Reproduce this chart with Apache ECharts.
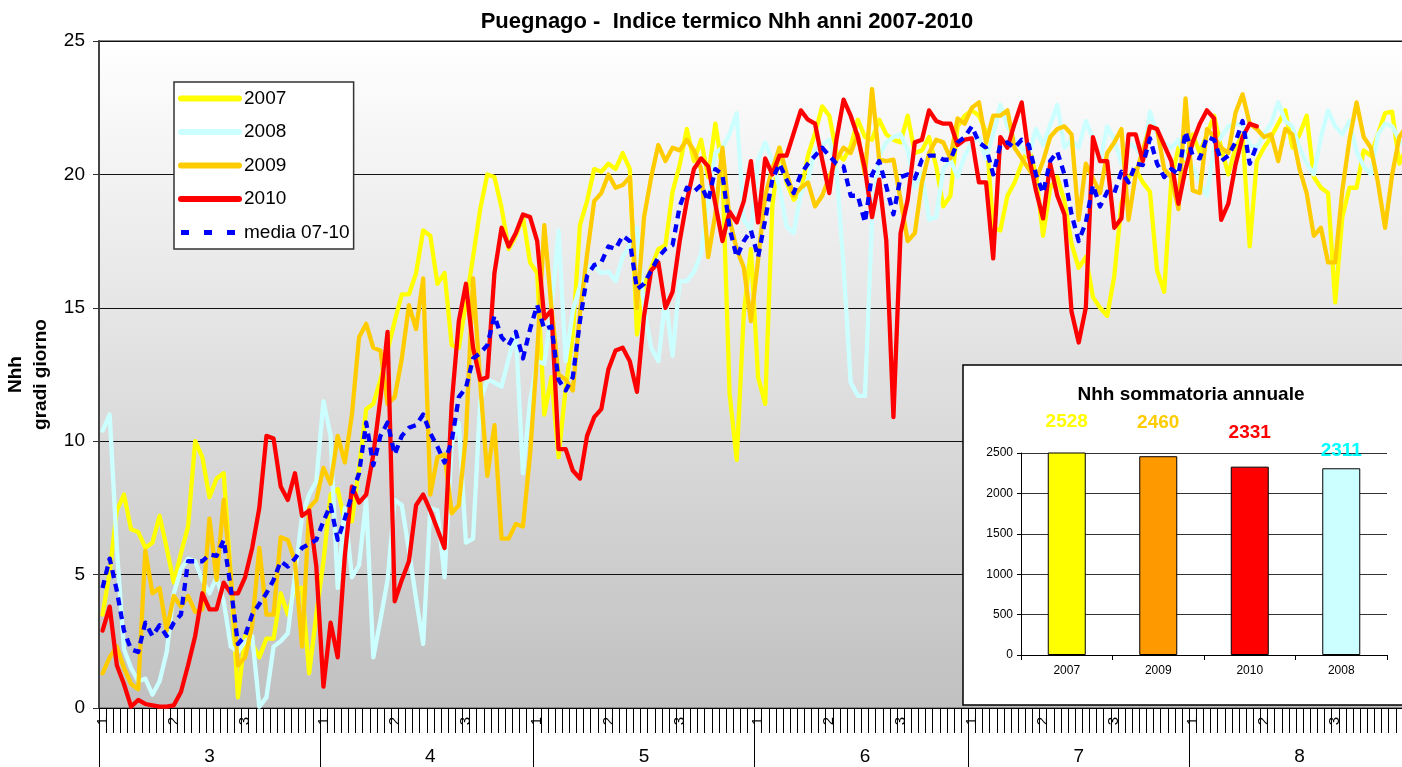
<!DOCTYPE html>
<html>
<head>
<meta charset="utf-8">
<script src="https://cdn.jsdelivr.net/npm/echarts@6/dist/echarts.min.js"></script>
<style>
  html, body { margin: 0; padding: 0; background: #fff; }
  #chart { width: 1402px; height: 767px; }
</style>
</head>
<body>
<div id="chart"></div>
<script>
// months shown on the axis and their lengths
const monthNames = ['3', '4', '5', '6', '7', '8'];
const monthDays = [31, 30, 31, 30, 31, 31];
// decade labels shown under day 1, 11, 21 of every month
const decadeDays = [1, 11, 21];
const decadeLabels = ['1', '2', '3'];

const seriesNames = ['2007', '2008', '2009', '2010', 'media 07-10'];

// daily Nhh values, 1 March -> 31 August
const nhh2007 = [
  3.5, 5.1, 7.4, 8.0, 6.7, 6.6, 6.0, 6.2, 7.2, 6.0, 4.7, 5.8, 6.8, 10.0, 9.4, 7.9, 8.6, 8.8, 4.9, 0.4, 2.7, 2.4, 1.9, 2.6, 2.6, 4.3, 3.5, 4.5, 4.5, 1.3, 3.5,
  5.5, 8.0, 8.2, 7.0, 7.0, 9.0, 11.2, 11.4, 12.3, 13.4, 14.5, 15.5, 15.5, 16.3, 17.9, 17.7, 15.9, 16.3, 13.6, 13.5, 15.2, 16.9, 18.7, 20.0, 19.9, 18.75, 17.2, 17.7, 18.4, 16.7,
  16.3, 11.0, 12.4, 9.4, 12.0, 14.0, 18.1, 19.0, 20.2, 20.1, 20.4, 20.2, 20.8, 20.2, 14.0, 15.8, 16.5, 17.2, 17.35, 19.35, 20.35, 21.7, 20.5, 21.3, 19.9, 21.9, 20.2, 11.8, 9.3, 14.8, 17.2,
  12.4, 11.4, 18.8, 21.0, 19.7, 19.05, 19.3, 20.7, 21.55, 22.55, 22.2, 20.8, 20.55, 21.05, 22.05, 21.4, 21.3, 22.05, 21.5, 21.3, 21.2, 22.2, 20.8, 20.9, 21.4, 20.3, 18.8, 19.2, 21.8, 22.2,
  22.4, 22.2, 21.6, 18.0, 17.9, 19.2, 19.7, 20.4, 21.0, 20.0, 17.7, 19.5, 19.9, 19.0, 17.4, 16.5, 16.9, 15.4, 15.0, 14.7, 16.2, 18.9, 19.9, 20.2, 19.7, 19.35, 16.4, 15.6, 19.8, 21.0, 20.5,
  21.5, 20.8, 21.5, 22.2, 21.0, 20.0, 21.0, 21.5, 17.3, 20.5, 21.0, 21.4, 21.9, 22.4, 21.0, 21.5, 22.2, 19.9, 19.5, 19.3, 15.2, 18.4, 19.5, 19.5, 20.9, 20.7, 21.5, 22.3, 22.35, 20.4, 21.0
];
const nhh2008 = [
  10.4, 11.0, 6.0, 2.2, 1.5, 1.0, 1.1, 0.5, 1.0, 2.1, 4.3, 5.2, 5.6, 5.5, 4.8, 4.3, 4.9, 4.0, 2.3, 2.1, 2.5, 2.7, 0.05, 0.4, 2.3, 2.5, 2.8, 5.0, 7.2, 8.0, 8.5,
  11.5, 10.2, 4.5, 7.5, 4.9, 5.35, 7.8, 1.9, 3.3, 4.8, 7.8, 7.6, 5.9, 4.1, 2.4, 7.5, 7.4, 4.9, 9.9, 10.7, 6.2, 6.35, 11.5, 12.3, 12.2, 12.05, 13.1, 14.1, 8.8, 11.5,
  13.0, 12.9, 14.9, 17.9, 13.0, 14.9, 15.8, 16.5, 16.6, 16.3, 16.35, 16.0, 16.9, 17.35, 18.0, 15.0, 13.5, 13.0, 15.4, 13.2, 16.0, 16.0, 16.35, 17.0, 19.0, 20.8, 21.0, 21.5, 22.3, 18.3, 17.9,
  20.55, 21.2, 20.5, 19.5, 18.05, 17.8, 19.3, 19.8, 20.9, 21.1, 21.3, 20.2, 16.55, 12.2, 11.7, 11.7, 18.3, 20.7, 21.2, 21.4, 21.5, 20.9, 19.5, 20.05, 18.3, 18.4, 20.2, 20.55, 19.9, 20.7,
  21.2, 21.4, 20.6, 21.5, 22.6, 21.8, 21.3, 21.0, 20.7, 21.7, 21.1, 21.85, 22.6, 21.0, 21.3, 21.0, 22.0, 21.35, 20.5, 21.8, 21.3, 20.4, 21.2, 21.0, 20.6, 22.35, 21.5, 21.2, 21.0, 21.3, 20.6,
  20.3, 19.7, 19.2, 21.0, 21.4, 21.8, 21.9, 21.85, 21.1, 21.0, 21.5, 21.9, 22.7, 22.0, 21.8, 21.0, 20.4, 20.0, 21.4, 22.4, 21.8, 21.5, 22.0, 20.85, 20.3, 20.0, 21.5, 21.9, 21.8, 21.3, 21.0
];
const nhh2009 = [
  1.3, 1.9, 2.3, 1.5, 0.9, 0.7, 5.9, 4.3, 4.5, 2.9, 4.2, 3.8, 4.2, 3.6, 3.7, 7.1, 4.8, 7.8, 4.9, 1.6, 1.9, 3.1, 6.0, 3.5, 3.5, 6.4, 6.3, 5.5, 2.3, 7.5, 7.8,
  9.0, 8.4, 10.2, 9.2, 11.0, 13.9, 14.4, 13.5, 13.4, 11.4, 11.65, 13.1, 15.1, 14.2, 16.1, 8.0, 9.4, 9.5, 7.3, 7.6, 10.2, 16.1, 12.2, 8.7, 10.6, 6.35, 6.35, 6.9, 6.8, 9.5,
  13.3, 18.1, 15.0, 12.5, 12.3, 11.9, 14.8, 17.0, 19.0, 19.3, 20.0, 19.5, 19.6, 19.9, 15.0, 18.4, 19.9, 21.1, 20.5, 21.0, 20.9, 21.3, 20.9, 20.2, 16.9, 18.5, 21.0, 18.3, 17.2, 16.5, 14.5,
  16.8, 19.2, 20.2, 21.0, 20.05, 19.2, 19.5, 19.7, 18.8, 19.2, 19.9, 20.55, 21.0, 20.8, 21.5, 20.0, 23.2, 20.55, 20.5, 20.55, 19.05, 17.5, 17.8, 19.7, 20.8, 21.3, 21.2, 20.6, 22.1, 21.9,
  22.5, 22.7, 21.2, 22.2, 22.2, 22.4, 21.0, 20.6, 20.2, 19.8, 20.5, 21.4, 21.7, 21.8, 21.5, 18.3, 20.4, 19.85, 19.3, 20.8, 21.2, 21.7, 18.3, 20.0, 20.9, 21.8, 21.7, 20.2, 19.9, 18.7, 22.85,
  19.4, 19.3, 21.7, 21.4, 21.0, 20.8, 22.3, 23.0, 21.9, 21.7, 21.4, 21.5, 20.5, 21.7, 21.5, 20.2, 19.3, 17.7, 18.0, 16.7, 16.7, 19.4, 21.3, 22.7, 21.4, 21.0, 19.7, 18.0, 20.0, 21.4, 21.8
];
const nhh2010 = [
  2.9, 3.8, 1.6, 0.9, 0.05, 0.3, 0.15, 0.1, 0.05, 0.05, 0.1, 0.6, 1.6, 2.7, 4.3, 3.7, 3.7, 4.7, 4.3, 4.3, 4.9, 6.0, 7.5, 10.2, 10.1, 8.3, 7.8, 8.8, 7.2, 7.4, 5.3,
  0.8, 3.2, 1.9, 5.7, 8.3, 7.7, 8.0, 9.5, 11.6, 14.1, 4.0, 4.8, 5.5, 7.6, 8.0, 7.4, 6.7, 6.0, 11.4, 14.5, 15.9, 13.5, 12.3, 12.4, 16.3, 18.0, 17.3, 17.8, 18.5, 18.4,
  17.5, 14.6, 14.9, 9.7, 9.7, 8.9, 8.6, 10.2, 10.9, 11.2, 12.7, 13.4, 13.5, 13.0, 11.85, 14.7, 16.4, 16.7, 15.0, 15.6, 17.5, 19.0, 20.2, 20.6, 20.3, 18.9, 17.5, 18.6, 18.2, 19.0, 20.5,
  18.2, 20.6, 20.0, 20.7, 20.7, 21.55, 22.4, 22.05, 21.9, 20.55, 19.3, 21.3, 22.8, 22.2, 21.4, 20.2, 18.4, 19.8, 17.5, 10.9, 17.8, 19.05, 21.2, 21.3, 22.4, 22.0, 21.9, 21.9, 21.1, 21.3,
  21.35, 19.7, 19.7, 16.85, 21.4, 21.0, 21.9, 22.7, 20.7, 19.4, 18.35, 20.4, 19.2, 18.5, 14.85, 13.7, 15.0, 21.4, 20.5, 20.5, 18.0, 18.35, 21.5, 21.5, 20.5, 21.8, 21.7, 21.1, 20.5, 18.9, 20.2,
  21.2, 21.9, 22.4, 22.1, 18.3, 18.9, 20.35, 21.4, 21.9, 21.8
];
const nhhMedia = [
  4.5, 5.6, 4.4, 2.9, 2.2, 2.1, 3.2, 2.7, 3.1, 2.7, 3.2, 3.5, 5.5, 5.5, 5.5, 5.75, 5.7, 6.3, 4.5, 2.4, 2.7, 3.5, 3.9, 4.3, 4.8, 5.5, 5.3, 5.6, 6.0, 6.15, 6.3,
  7.0, 7.6, 6.3, 7.1, 8.0, 8.8, 10.7, 9.1, 10.2, 10.7, 9.5, 10.2, 10.5, 10.6, 11.0, 10.3, 9.8, 9.2, 10.0, 11.65, 12.0, 13.1, 13.3, 13.6, 14.7, 13.9, 13.6, 14.1, 13.1, 14.2,
  15.1, 14.2, 14.3, 12.3, 11.9, 12.4, 14.5, 16.2, 16.6, 16.7, 17.3, 17.2, 17.7, 17.5, 15.7, 15.9, 16.4, 16.9, 17.2, 17.35, 18.8, 19.5, 19.35, 19.6, 19.0, 20.2, 20.0, 18.0, 16.9, 17.5, 17.9,
  16.9, 18.3, 19.8, 20.4, 19.8, 19.3, 20.0, 20.4, 20.7, 21.0, 20.7, 20.4, 20.3, 19.2, 19.2, 18.2, 20.0, 20.5, 19.55, 18.5, 19.9, 20.0, 19.85, 20.55, 20.7, 20.7, 20.55, 20.55, 21.2, 21.4,
  21.8, 21.2, 21.0, 20.0, 21.1, 21.2, 21.0, 21.3, 21.1, 20.0, 19.3, 20.5, 20.85, 20.0, 18.5, 17.5, 18.2, 19.6, 18.8, 19.35, 19.3, 20.1, 19.7, 20.4, 20.35, 21.35, 20.4, 19.9, 20.2, 20.0, 21.6,
  20.7, 20.6, 21.4, 21.3, 20.5, 20.7, 21.2, 22.0, 20.4, 21.1
];

// inset: yearly sums
const sumYears = ['2007', '2009', '2010', '2008'];
const sumValues = [2528, 2460, 2331, 2311];

const lineColors = ['#FFFF00', '#CCFFFF', '#FFCC00', '#FF0000', '#0000FF'];
const barColors = ['#FFFF00', '#FF9900', '#FF0000', '#CCFFFF'];
const barLabelColors = ['#FFFF00', '#FFCC00', '#FF0000', '#00FFFF'];
const barLabelLift = [-16, -19, -19, -3];

const FONT = '"Liberation Sans", Arial, sans-serif';

// one category per day
const days = [];
monthNames.forEach(function (m, k) {
  for (let d = 1; d <= monthDays[k]; d++) days.push(m + '/' + d);
});
const dayOf = function (i) { return +days[i].split('/')[1]; };

const chart = echarts.init(document.getElementById('chart'));

const lineSeries = [nhh2007, nhh2008, nhh2009, nhh2010, nhhMedia].map(function (vals, k) {
  const dashed = k === 4;
  return {
    name: seriesNames[k],
    type: 'line',
    xAxisIndex: 0,
    yAxisIndex: 0,
    data: vals,
    symbol: 'none',
    showSymbol: false,
    z: 2 + k * 0.1,
    lineStyle: {
      color: lineColors[k],
      width: 4.3,
      type: dashed ? [8, 6] : 'solid',
      cap: dashed ? 'butt' : 'round',
      join: 'round'
    },
    itemStyle: { color: lineColors[k] },
    emphasis: { disabled: true }
  };
});

// legend entries; the average gets the wider dash of the original key
const legendData = seriesNames.map(function (n, k) {
  return k === 4
    ? { name: n, lineStyle: { type: [8, 15], cap: 'butt', width: 5 } }
    : { name: n };
});

const option = {
  animation: false,
  textStyle: { fontFamily: FONT },
  title: [
    {
      text: 'Puegnago -  Indice termico Nhh anni 2007-2010',
      left: 722, top: 6, textAlign: 'center',
      textStyle: { fontSize: 22, fontWeight: 'bold', color: '#000', fontFamily: FONT }
    },
    {
      text: 'Nhh sommatoria annuale',
      left: 1186, top: 380, textAlign: 'center', z: 12,
      textStyle: { fontSize: 19, fontWeight: 'bold', color: '#000', fontFamily: FONT }
    }
  ],
  legend: {
    data: legendData,
    orient: 'vertical',
    left: 174, top: 82,
    backgroundColor: '#fff',
    borderColor: '#333', borderWidth: 1.5, borderRadius: 0,
    padding: [7, 4, 7, 4],
    itemWidth: 58, itemHeight: 14, itemGap: 14.5,
    selectedMode: false,
    itemStyle: { opacity: 0 },
    lineStyle: { width: 6, cap: 'round' },
    textStyle: { fontSize: 19, color: '#000', fontFamily: FONT }
  },
  graphic: [{
    type: 'rect', z: 10, silent: true,
    shape: { x: 963, y: 365, width: 470, height: 340 },
    style: { fill: '#fff', stroke: '#000', lineWidth: 1.5 }
  }],
  grid: [
    {
      left: 99, top: 41, right: -8, bottom: 59,
      outerBoundsMode: 'none',
      show: true,
      borderColor: '#888', borderWidth: 2,
      backgroundColor: new echarts.graphic.LinearGradient(0, 0, 0, 1, [
        { offset: 0, color: '#ffffff' },
        { offset: 1, color: '#c0c0c0' }
      ])
    },
    { left: 1021, top: 453, right: 15, bottom: 112, outerBoundsMode: 'none' }
  ],
  xAxis: [
    {
      type: 'category', gridIndex: 0, data: days, boundaryGap: true,
      axisLine: { lineStyle: { color: '#000', width: 1 } },
      axisTick: { show: true, interval: 0, length: 25, lineStyle: { color: '#000' } },
      axisLabel: {
        interval: function (i) { return decadeDays.indexOf(dayOf(i)) >= 0; },
        formatter: function (v) { return decadeLabels[decadeDays.indexOf(+v.split('/')[1])]; },
        rotate: 90, fontSize: 15, color: '#000', margin: 9, fontFamily: FONT
      },
      splitLine: { show: false }
    },
    {
      type: 'category', gridIndex: 0, data: days, boundaryGap: true,
      position: 'bottom', offset: 25,
      axisLine: { show: false },
      axisTick: {
        show: true, length: 34, lineStyle: { color: '#000' },
        interval: function (i) { return dayOf(i) === 1; }
      },
      axisLabel: {
        interval: function (i) { return dayOf(i) === 16; },
        formatter: function (v) { return v.split('/')[0]; },
        fontSize: 19, color: '#000', margin: 14, fontFamily: FONT
      },
      splitLine: { show: false }
    },
    {
      type: 'category', gridIndex: 1, data: sumYears, z: 12,
      axisLine: { lineStyle: { color: '#000', width: 1 } },
      axisTick: { show: true, length: 5, lineStyle: { color: '#000' } },
      axisLabel: { fontSize: 12, color: '#000', margin: 10, fontFamily: FONT }
    }
  ],
  yAxis: [
    {
      type: 'value', gridIndex: 0, min: 0, max: 25, interval: 5,
      name: 'Nhh\ngradi giorno', nameLocation: 'middle', nameRotate: 90, nameGap: 34,
      nameTextStyle: { fontSize: 19, fontWeight: 'bold', color: '#000', lineHeight: 25, fontFamily: FONT },
      axisLine: { show: true, lineStyle: { color: '#444', width: 2 } },
      axisTick: { show: true, length: 6, lineStyle: { color: '#333' } },
      axisLabel: { fontSize: 19, color: '#000', margin: 14, fontFamily: FONT },
      splitLine: { show: true, lineStyle: { color: '#111', width: 1 } }
    },
    {
      type: 'value', gridIndex: 1, min: 0, max: 2500, interval: 500, z: 12,
      axisLine: { show: true, lineStyle: { color: '#000', width: 1 } },
      axisTick: { show: true, length: 4, lineStyle: { color: '#000' } },
      axisLabel: {
        fontSize: 12, color: '#000', margin: 8, fontFamily: FONT,
        formatter: function (v) { return String(v); }
      },
      splitLine: { show: true, lineStyle: { color: '#333', width: 1 } }
    }
  ],
  series: lineSeries.concat([{
    name: 'sommatoria',
    type: 'bar',
    xAxisIndex: 2, yAxisIndex: 1, z: 12,
    barWidth: 38,
    data: sumValues.map(function (v, k) {
      return {
        value: v,
        itemStyle: { color: barColors[k], borderColor: '#000', borderWidth: 1 },
        label: { color: barLabelColors[k], offset: [0, barLabelLift[k]] }
      };
    }),
    label: { show: true, position: 'top', fontSize: 19, fontWeight: 'bold', fontFamily: FONT },
    emphasis: { disabled: true }
  }])
};

chart.setOption(option);
window.addEventListener('resize', function () { chart.resize(); });
</script>
</body>
</html>
